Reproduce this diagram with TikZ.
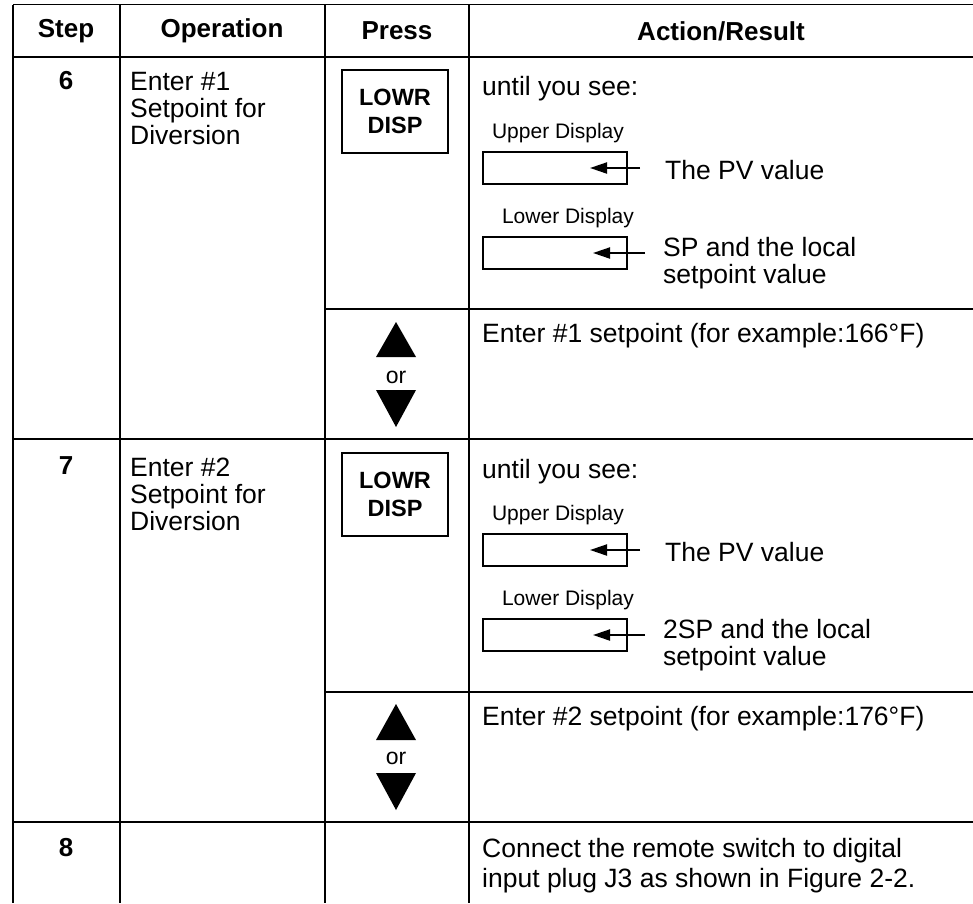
\documentclass[tikz,border=0pt]{standalone}
\usepackage{fontspec}
\setmainfont{Liberation Sans}
\usetikzlibrary{arrows.meta}
\begin{document}
\begin{tikzpicture}[x=1pt,y=-1pt,
  gridline/.style={line width=1.6pt},
  hdr/.style={font=\bfseries\fontsize{26}{30}\selectfont, inner sep=0},
  stepno/.style={font=\bfseries\fontsize{26}{30}\selectfont, inner sep=0},
  txt/.style={font=\fontsize{26.5}{27}\selectfont, inner sep=0, anchor=north west, align=left},
  small/.style={font=\fontsize{21}{24}\selectfont, inner sep=0},
  btn/.style={draw, line width=2.6pt, minimum width=106pt, minimum height=83pt, inner sep=0,
              font=\bfseries\fontsize{23.5}{28}\selectfont, align=center},
  disp/.style={draw, line width=2pt, minimum width=144pt, minimum height=32pt, inner sep=0},
  ptr/.style={line width=2pt, -{Triangle[length=17pt,width=11pt]}},
  ortxt/.style={font=\fontsize{23}{26}\selectfont, inner sep=0},
  tri/.style={fill=black}
]
\useasboundingbox (0,0) rectangle (973,903);

% grid
\draw[gridline] (13,4.5) -- (973,4.5);
\draw[gridline] (13,57) -- (973,57);
\draw[gridline] (13,439) -- (973,439);
\draw[gridline] (13,822) -- (973,822);
\draw[gridline] (325,309) -- (973,309);
\draw[gridline] (325,692) -- (973,692);
\foreach \x in {13,120,325,469} \draw[gridline] (\x,4.5) -- (\x,903);

% header
\node[hdr] (hstep) at (66,31) {Step};
\node[hdr] (hop) at (222,31) {Operation};
\node[hdr] (hpress) at (397,31) {Press};
\node[hdr] (hact) at (721,31) {Action/Result};

% ---------- row 6 ----------
\node[stepno] (s6) at (66,81) {6};
\node[txt] (op6) at (130,72.5) {Enter \#1\\Setpoint for\\Diversion};
\node[btn] (b6) at (395,111.5) {LOWR\\DISP};
\node[txt] (u6) at (482,76.5) {until you see:};
\node[small] (ul6) at (558,133) {Upper Display};
\node[disp] (ud6) at (555,168) {};
\coordinate (ua6s) at (640,168);
\coordinate (ua6t) at (590,168);
\draw[ptr] (ua6s) -- (ua6t);
\node[txt, anchor=west] (pv6) at (665,170) {The PV value};
\node[small] (ll6) at (568,218) {Lower Display};
\node[disp] (ld6) at (555,253) {};
\coordinate (la6s) at (645,253);
\coordinate (la6t) at (593,253);
\draw[ptr] (la6s) -- (la6t);
\node[txt, text depth=0pt] (sp6) at (663,237.5) {SP and the local\\setpoint value};
\fill[tri] (396,322) -- (416,357) -- (376,357) -- cycle;
\node[ortxt] (or6) at (396,377) {or};
\fill[tri] (376,390) -- (416,390) -- (396,427) -- cycle;
\node[txt] (e6) at (482,323.5) {Enter \#1 setpoint (for example:166°F)};

% ---------- row 7 ----------
\node[stepno] (s7) at (66,466) {7};
\node[txt] (op7) at (130,457.5) {Enter \#2\\Setpoint for\\Diversion};
\node[btn] (b7) at (395,494.5) {LOWR\\DISP};
\node[txt] (u7) at (482,459) {until you see:};
\node[small] (ul7) at (558,515) {Upper Display};
\node[disp] (ud7) at (555,550) {};
\coordinate (ua7s) at (640,550);
\coordinate (ua7t) at (590,550);
\draw[ptr] (ua7s) -- (ua7t);
\node[txt, anchor=west] (pv7) at (665,552) {The PV value};
\node[small] (ll7) at (568,600) {Lower Display};
\node[disp] (ld7) at (555,635) {};
\coordinate (la7s) at (645,635);
\coordinate (la7t) at (593,635);
\draw[ptr] (la7s) -- (la7t);
\node[txt] (sp7) at (663,619.5) {2SP and the local\\setpoint value};
\fill[tri] (396,704) -- (416,740) -- (376,740) -- cycle;
\node[ortxt] (or7) at (396,758) {or};
\fill[tri] (376,773) -- (416,773) -- (396,810) -- cycle;
\node[txt] (e7) at (482,706.5) {Enter \#2 setpoint (for example:176°F)};

% ---------- row 8 ----------
\node[stepno] (s8) at (66,848) {8};
\node[txt, font=\fontsize{26.5}{30}\selectfont] (c8) at (482,838.5) {Connect the remote switch to digital\\input plug J3 as shown in Figure 2-2.};
\end{tikzpicture}
\end{document}
